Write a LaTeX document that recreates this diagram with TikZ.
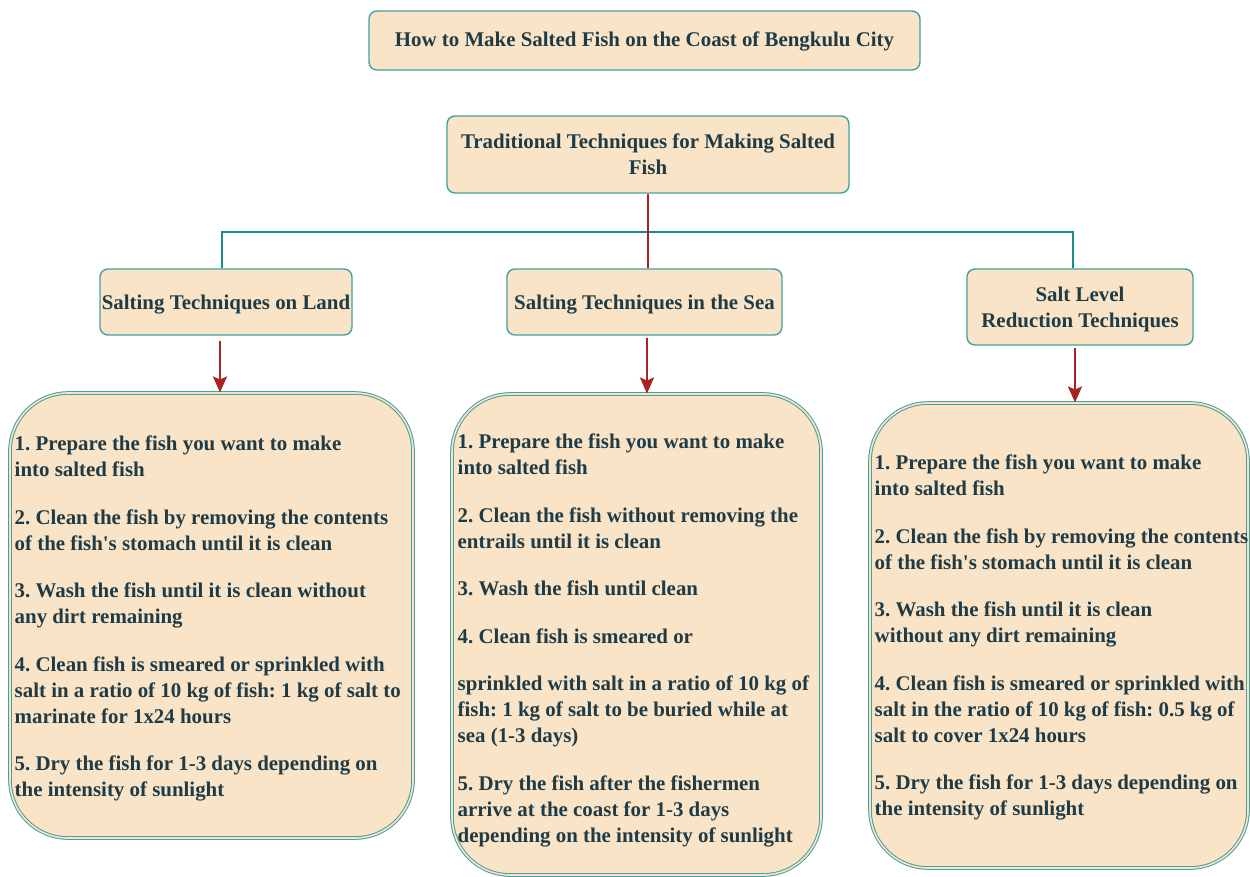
\documentclass[tikz,border=0pt]{standalone}
\usepackage{fontspec}
\setmainfont{Liberation Serif}
\usetikzlibrary{arrows.meta}
\definecolor{boxfill}{HTML}{FAE4C8}
\definecolor{boxline}{HTML}{45A0A0}
\definecolor{txtc}{HTML}{1F3C46}
\definecolor{arr}{HTML}{A82424}
\definecolor{tealline}{HTML}{1E8C8C}
\newcommand\myfont{\fontsize{20.9}{26}\selectfont\bfseries\frenchspacing}
\newcommand\upstrut{\rule{0pt}{20pt}}
\begin{document}
\begin{tikzpicture}[x=1pt,y=-1pt,
  hdr/.style={draw=boxline, fill=boxfill, line width=1.4pt, rounded corners=8pt,
    align=center, text=txtc, font=\myfont, inner sep=0pt},
  bodybox/.style={draw=boxline, double=boxfill, double distance=1.6pt, line width=1pt,
    fill=boxfill, rounded corners=58pt, inner sep=0pt},
  bodytxt/.style={align=left, inner sep=0pt, text=txtc, font=\myfont, anchor=west},
  tealconn/.style={draw=tealline, line width=2.5pt},
  redconn/.style={draw=arr, line width=2.5pt},
  arrowst/.style={draw=arr, line width=2.5pt, -{Stealth[length=16pt,width=14pt,inset=3pt]}}
]
\useasboundingbox (0,0) rectangle (1250,876);

% header boxes
\node[hdr, minimum width=551, minimum height=59] (title) at (644.5,40.5)
  {\rule{0pt}{16pt}How to Make Salted Fish on the Coast of Bengkulu City};
\node[hdr, minimum width=402, minimum height=77] (trad) at (648,154.5)
  {Traditional Techniques for Making Salted\\Fish};
\node[hdr, minimum width=252, minimum height=66] (land) at (226,302)
  {\upstrut Salting Techniques on Land};
\node[hdr, minimum width=275, minimum height=66] (sea) at (644.5,302)
  {\upstrut Salting Techniques in the Sea};
\node[hdr, minimum width=226, minimum height=76] (salt) at (1080,307)
  {\upstrut Salt Level\\Reduction Techniques};

% body boxes
\node[bodybox, minimum width=403, minimum height=445] (landbody) at (211.5,615.5) {};
\node[bodybox, minimum width=369, minimum height=481] (seabody) at (636.5,634.5) {};
\node[bodybox, minimum width=378, minimum height=465] (saltbody) at (1059,635.5) {};

\node[bodytxt] (landtxt) at ([xshift=5pt,yshift=-3pt]landbody.west) {%
1. Prepare the fish you want to make\\
into salted fish\\[21.5pt]
2. Clean the fish by removing the contents\\
of the fish\textquotesingle s stomach until it is clean\\[21.5pt]
3. Wash the fish until it is clean without\\
any dirt remaining\\[21.5pt]
4. Clean fish is smeared or sprinkled with\\
salt in a ratio of 10 kg of fish: 1 kg of salt to\\
marinate for 1x24 hours\\[21.5pt]
5. Dry the fish for 1-3 days depending on\\
the intensity of sunlight};

\node[bodytxt] (seatxt) at ([xshift=6pt,yshift=-6pt]seabody.west) {%
1. Prepare the fish you want to make\\
into salted fish\\[21.5pt]
2. Clean the fish without removing the\\
entrails until it is clean\\[21.5pt]
3. Wash the fish until clean\\[21.5pt]
4. Clean fish is smeared or\\[21.5pt]
sprinkled with salt in a ratio of 10 kg of\\
fish: 1 kg of salt to be buried while at\\
sea (1-3 days)\\[21.5pt]
5. Dry the fish after the fishermen\\
arrive at the coast for 1-3 days\\
depending on the intensity of sunlight};

\node[bodytxt] (salttxt) at ([xshift=5pt,yshift=-2pt]saltbody.west) {%
1. Prepare the fish you want to make\\
into salted fish\\[21.5pt]
2. Clean the fish by removing the contents\\
of the fish\textquotesingle s stomach until it is clean\\[21.5pt]
3. Wash the fish until it is clean\\
without any dirt remaining\\[21.5pt]
4. Clean fish is smeared or sprinkled with\\
salt in the ratio of 10 kg of fish: 0.5 kg of\\
salt to cover 1x24 hours\\[21.5pt]
5. Dry the fish for 1-3 days depending on\\
the intensity of sunlight};

% connectors
\coordinate (hub) at (648,232);
\draw[tealconn] ([xshift=-4pt]land.north) |- (hub) -| ([xshift=-7pt]salt.north);
\draw[redconn] (trad.south) -- (trad.south |- sea.north);

\draw[arrowst, shorten <=5pt] ([xshift=-6pt]land.south) -- ([xshift=-6pt]land.south |- landbody.north);
\draw[arrowst, shorten <=2pt] ([xshift=2.5pt]sea.south) -- ([xshift=2.5pt]sea.south |- seabody.north);
\draw[arrowst, shorten <=2pt] ([xshift=-5pt]salt.south) -- ([xshift=-5pt]salt.south |- saltbody.north);
\end{tikzpicture}
\end{document}
